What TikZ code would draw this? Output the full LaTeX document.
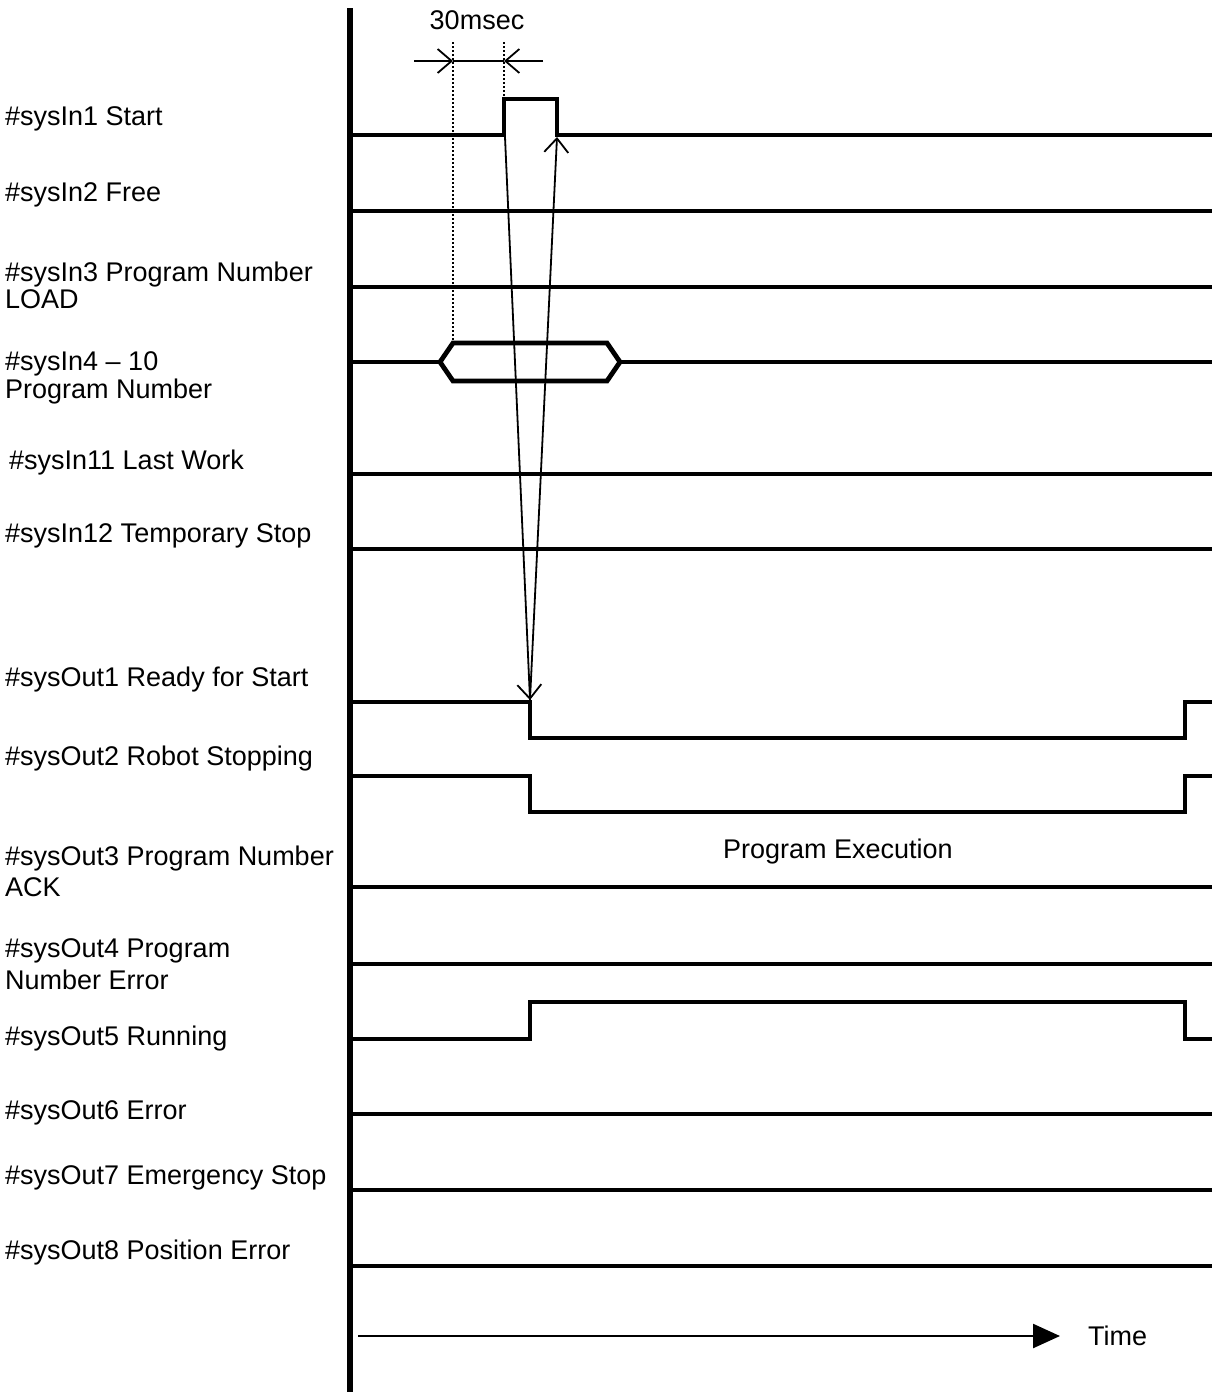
\documentclass[tikz,border=0pt]{standalone}
\usepackage{fontspec}
\setmainfont{Liberation Sans}
\usetikzlibrary{arrows.meta}
\begin{document}
\begin{tikzpicture}[x=1pt,y=-1pt,
  lbl/.style={anchor=base west,inner sep=0pt,font=\fontsize{27}{28}\selectfont,align=left},
  sig/.style={line width=4.8pt,line join=miter},
  axis/.style={line width=5.5pt},
  thinarr/.style={line width=1.8pt,-{Straight Barb[length=14pt,width=24pt,line width=1.8pt]}},
  dim/.style={line width=1.8pt},
  guide/.style={line width=2pt,dash pattern=on 2pt off 2pt}]
\useasboundingbox (0,0) rectangle (1212,1392);
% axis
\coordinate (axtop) at (350,8);
\coordinate (axbot) at (350,1392);
\draw[axis] (axtop) -- (axbot);
% labels
\node[lbl] (l1) at (5,125) {\#sysIn1 Start};
\node[lbl] (l2) at (5,201) {\#sysIn2 Free};
\node[lbl] (l3) at (5,281) {\#sysIn3 Program Number};
\node[lbl] (l3b) at (5,308) {LOAD};
\node[lbl] (l4) at (5,370) {\#sysIn4 – 10};
\node[lbl] (l4b) at (5,398) {Program Number};
\node[lbl] (l11) at (9,469) {\#sysIn11 Last Work};
\node[lbl] (l12) at (5,542) {\#sysIn12 Temporary Stop};
\node[lbl] (o1) at (5,686) {\#sysOut1 Ready for Start};
\node[lbl] (o2) at (5,765) {\#sysOut2 Robot Stopping};
\node[lbl] (o3) at (5,865) {\#sysOut3 Program Number};
\node[lbl] (o3b) at (5,896) {ACK};
\node[lbl] (o4) at (5,957) {\#sysOut4 Program};
\node[lbl] (o4b) at (5,989) {Number Error};
\node[lbl] (o5) at (5,1045) {\#sysOut5 Running};
\node[lbl] (o6) at (5,1119) {\#sysOut6 Error};
\node[lbl] (o7) at (5,1184) {\#sysOut7 Emergency Stop};
\node[lbl] (o8) at (5,1259) {\#sysOut8 Position Error};
\node[lbl,anchor=base] (pe) at (838,858) {Program Execution};
\node[lbl] (time) at (1088,1345) {Time};
\node[lbl,anchor=base] (ms) at (477,29) {30msec};
% signals
\draw[sig] (352,135) -- (504,135) -- (504,99) -- (557,99) -- (557,135) -- (1212,135);
\draw[sig] (352,211) -- (1212,211);
\draw[sig] (352,287) -- (1212,287);
\draw[sig] (352,362) -- (440,362);
\draw[sig] (440,362) -- (453,343) -- (607,343) -- (620,362) -- (607,381) -- (453,381) -- cycle;
\draw[sig] (620,362) -- (1212,362);
\draw[sig] (352,474) -- (1212,474);
\draw[sig] (352,549) -- (1212,549);
\draw[sig] (352,702) -- (530,702) -- (530,738) -- (1185,738) -- (1185,702) -- (1212,702);
\draw[sig] (352,776) -- (530,776) -- (530,812) -- (1185,812) -- (1185,776) -- (1212,776);
\draw[sig] (352,887) -- (1212,887);
\draw[sig] (352,964) -- (1212,964);
\draw[sig] (352,1039) -- (530,1039) -- (530,1002) -- (1185,1002) -- (1185,1039) -- (1212,1039);
\draw[sig] (352,1114) -- (1212,1114);
\draw[sig] (352,1190) -- (1212,1190);
\draw[sig] (352,1266) -- (1212,1266);
% guides and dimension
\coordinate (g1t) at (453,42); \coordinate (g1b) at (453,341);
\coordinate (g2t) at (504,42); \coordinate (g2b) at (504,97);
\draw[guide] (g1t) -- (g1b);
\draw[guide] (g2t) -- (g2b);
\coordinate (d1) at (414,61); \coordinate (d1e) at (453,61);
\coordinate (d2) at (543,61); \coordinate (d2e) at (504,61);
\draw[dim] (d1e) -- (d2e);
\draw[thinarr] (d1) -- (d1e);
\draw[thinarr] (d2) -- (d2e);
% causality arrows
\coordinate (startrise) at (505,137);
\coordinate (readyfall) at (530,700);
\coordinate (startfall) at (557,137);
\draw[thinarr] (startrise) -- (readyfall);
\draw[thinarr] (readyfall) -- (startfall);
% time arrow
\coordinate (t0) at (358,1336);
\coordinate (t1) at (1060,1336);
\draw[line width=2.4pt,-{Triangle[length=27pt,width=24pt]}] (t0) -- (t1);
\end{tikzpicture}
\end{document}
